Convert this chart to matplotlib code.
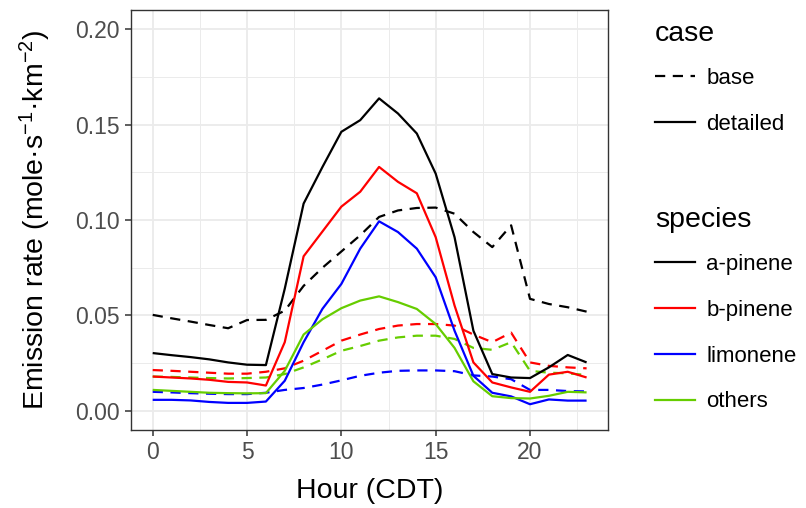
import matplotlib
matplotlib.use("Agg")
import matplotlib.pyplot as plt
from matplotlib.lines import Line2D
import numpy as np

plt.rcParams['font.family'] = ['Liberation Sans', 'DejaVu Sans']
plt.rcParams['mathtext.fontset'] = 'custom'
plt.rcParams['mathtext.rm'] = 'Liberation Sans'
plt.rcParams['mathtext.it'] = 'Liberation Sans'

hours = list(range(24))
species = ['a-pinene', 'b-pinene', 'limonene', 'others']
species_colors = ['#000000', '#FF0000', '#0000FF', '#66CD00']
cases = ['base', 'detailed']

# detailed case
a_det = [0.0303, 0.0292, 0.0282, 0.0270, 0.0254, 0.0242, 0.0240, 0.0640, 0.1086, 0.1278, 0.1462, 0.1523,
         0.1637, 0.1558, 0.1453, 0.1243, 0.0910, 0.0420, 0.0193, 0.0175, 0.0172, 0.0228, 0.0293, 0.0254]
b_det = [0.0180, 0.0175, 0.0170, 0.0163, 0.0152, 0.0149, 0.0133, 0.0360, 0.0810, 0.0940, 0.1070, 0.1148,
         0.1278, 0.1200, 0.1140, 0.0910, 0.0552, 0.0254, 0.0149, 0.0123, 0.0100, 0.0190, 0.0205, 0.0175]
l_det = [0.0058, 0.0058, 0.0055, 0.0047, 0.0042, 0.0042, 0.0049, 0.0158, 0.0360, 0.0535, 0.0665, 0.0850,
         0.0993, 0.0937, 0.0850, 0.0700, 0.0420, 0.0184, 0.0095, 0.0076, 0.0035, 0.0060, 0.0054, 0.0054]
o_det = [0.0110, 0.0105, 0.0100, 0.0095, 0.0093, 0.0092, 0.0093, 0.0210, 0.0400, 0.0480, 0.0538, 0.0578,
         0.0600, 0.0570, 0.0534, 0.0455, 0.0330, 0.0155, 0.0077, 0.0067, 0.0065, 0.0079, 0.0100, 0.0097]
# base case
a_base = [0.0503, 0.0485, 0.0468, 0.0450, 0.0433, 0.0476, 0.0477, 0.0525, 0.0655, 0.0750, 0.0835, 0.0920,
          0.1016, 0.1050, 0.1063, 0.1065, 0.1033, 0.0937, 0.0858, 0.0972, 0.0587, 0.0560, 0.0543, 0.0520]
b_base = [0.0214, 0.0210, 0.0205, 0.0200, 0.0195, 0.0195, 0.0205, 0.0223, 0.0263, 0.0315, 0.0368, 0.0400,
          0.0429, 0.0447, 0.0455, 0.0455, 0.0447, 0.0400, 0.0360, 0.0410, 0.0254, 0.0236, 0.0228, 0.0223]
l_base = [0.0100, 0.0097, 0.0093, 0.0090, 0.0088, 0.0088, 0.0095, 0.0110, 0.0120, 0.0138, 0.0160, 0.0184,
          0.0200, 0.0210, 0.0212, 0.0212, 0.0208, 0.0186, 0.0180, 0.0166, 0.0110, 0.0110, 0.0104, 0.0102]
o_base = [0.0180, 0.0178, 0.0175, 0.0172, 0.0170, 0.0172, 0.0175, 0.0193, 0.0228, 0.0270, 0.0315, 0.0340,
          0.0368, 0.0385, 0.0394, 0.0394, 0.0377, 0.0330, 0.0320, 0.0360, 0.0210, 0.0200, 0.0197, 0.0188]

x_ticks = [0, 5, 10, 15, 20]
y_ticks = [0.00, 0.05, 0.10, 0.15, 0.20]

base_series = [a_base, b_base, l_base, o_base]
det_series = [a_det, b_det, l_det, o_det]

fig = plt.figure(figsize=(8.06, 5.08), dpi=100)
ax = fig.add_axes([131 / 806, 1 - 430 / 508, (608.3 - 131) / 806, 420 / 508])

LW = 1.6
DASH = (4.6, 3.4)
for vals, col in zip(base_series, species_colors):
    ax.plot(hours, vals, color=col, lw=LW, dashes=DASH, solid_capstyle='butt', dash_capstyle='butt')
for vals, col in zip(det_series, species_colors):
    ax.plot(hours, vals, color=col, lw=LW, solid_capstyle='butt')

ax.set_xlim(-1.15, 24.15)
ax.set_ylim(-0.01, 0.21)
ax.set_xticks(x_ticks)
ax.set_xticklabels([str(t) for t in x_ticks])
ax.set_yticks(y_ticks)
ax.set_yticklabels([f"{t:.2f}" for t in y_ticks])
ax.set_xticks([2.5, 7.5, 12.5, 17.5, 22.5], minor=True)
ax.set_yticks([0.025, 0.075, 0.125, 0.175], minor=True)
ax.grid(which='major', color='#EBEBEB', lw=1.3)
ax.grid(which='minor', color='#EBEBEB', lw=0.7)
ax.set_axisbelow(True)
for s in ax.spines.values():
    s.set_color('#333333')
    s.set_linewidth(1.0)
ax.tick_params(which='major', length=4.5, width=1.1, color='#333333', labelsize=16.5,
               labelcolor='#4D4D4D', pad=3.5)
ax.tick_params(which='minor', length=0)

ax.set_xlabel('Hour (CDT)', fontsize=20.5, color='black')
ax.set_ylabel('Emission rate (mole·s$^{-1}$·km$^{-2}$)', fontsize=20.5, color='black')
ax.xaxis.label.set_va('center')
ax.yaxis.label.set_va('center')
ax.xaxis.set_label_coords(0.5, (430 - 491) / 420)
ax.yaxis.set_label_coords((35 - 131) / 477.3, 0.5)

# legends
case_handles = [Line2D([], [], color='black', lw=LW, dashes=DASH),
                Line2D([], [], color='black', lw=LW)]
leg_kw = dict(loc='upper left', frameon=False, fontsize=16, title_fontsize=20.5,
              handlelength=1.8, handletextpad=0.5, labelspacing=1.12,
              borderpad=0, borderaxespad=0, alignment='left')
leg1 = fig.legend(case_handles, cases, title='case',
                  bbox_to_anchor=(655 / 806, 1 - 21 / 508), **leg_kw)
sp_handles = [Line2D([], [], color=c, lw=LW) for c in species_colors]
leg2 = fig.legend(sp_handles, species, title='species',
                  bbox_to_anchor=(655 / 806, 1 - 207 / 508), **leg_kw)
for lg in (leg1, leg2):
    lg._legend_box.sep = 15.0
    for t in lg.get_texts():
        t.set_color('black')

fig.savefig('out.png', dpi=100)
